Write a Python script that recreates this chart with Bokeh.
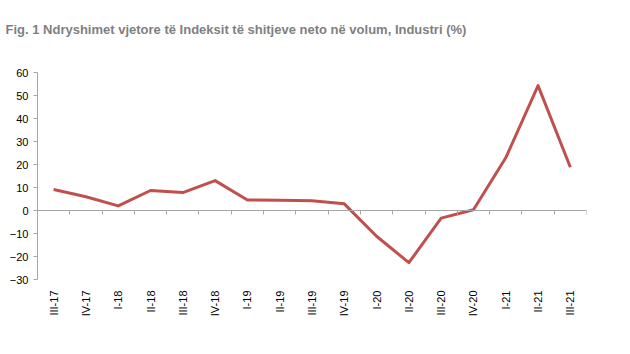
import math
from bokeh.plotting import figure
from bokeh.models import Range1d, LinearAxis, FixedTicker, Title
from bokeh.embed import file_html
from bokeh.resources import INLINE

categories = ["III-17", "IV-17", "I-18", "II-18", "III-18", "IV-18", "I-19", "II-19", "III-19",
              "IV-19", "I-20", "II-20", "III-20", "IV-20", "I-21", "II-21", "III-21"]
values = [9.1, 6.0, 2.0, 8.7, 7.8, 13.0, 4.6, 4.5, 4.2, 2.9, -11.2, -22.7, -3.3, 0.3, 22.9, 54.3, 18.8]
y_ticks = [-30, -20, -10, 0, 10, 20, 30, 40, 50, 60]
title_text = "Fig. 1 Ndryshimet vjetore të Indeksit të shitjeve neto në volum, Industri (%)"

n = len(categories)
xs = list(range(n))

FONT = "Liberation Sans"
AXIS_GREY = "#a6a6a6"

p = figure(width=630, height=354, output_backend="svg", toolbar_location=None,
           x_range=Range1d(-0.5, n - 0.5), y_range=Range1d(min(y_ticks), max(y_ticks)),
           x_axis_location=None, y_axis_location=None,
           min_border_left=37, min_border_right=44, min_border_top=72, min_border_bottom=75)
p.outline_line_color = None
p.grid.visible = False
p.background_fill_color = "white"
p.border_fill_color = "white"

# spacer panel between frame and title
spacer = Title(text=" ", text_font=FONT, text_font_size="14px", standoff=13)
p.add_layout(spacer, "above")
t = Title(text=title_text, text_font=FONT, text_font_size="13px", text_font_style="bold",
          text_color="#7f7f7f", align="left", offset=-32, standoff=10)
p.add_layout(t, "above")

# y axis
yax = LinearAxis(ticker=FixedTicker(ticks=y_ticks))
yax.axis_line_color = AXIS_GREY
yax.major_tick_line_color = AXIS_GREY
yax.major_tick_out = 4
yax.major_tick_in = 0
yax.minor_tick_line_color = None
yax.major_label_text_font = FONT
yax.major_label_text_font_size = "11px"
yax.major_label_text_color = "#000000"
yax.major_label_standoff = 5
p.add_layout(yax, "left")

# category labels at the bottom
xlab = LinearAxis(ticker=FixedTicker(ticks=xs),
                  major_label_overrides={i: c for i, c in enumerate(categories)})
xlab.axis_line_color = None
xlab.major_tick_line_color = None
xlab.minor_tick_line_color = None
xlab.major_label_orientation = math.pi / 2
xlab.major_label_text_font = FONT
xlab.major_label_text_font_size = "11px"
xlab.major_label_text_color = "#000000"
xlab.major_label_standoff = 5
p.add_layout(xlab, "below")

# zero axis with ticks between categories
zax = LinearAxis(ticker=FixedTicker(ticks=[i - 0.5 for i in range(n + 1)]), fixed_location=0)
zax.axis_line_color = AXIS_GREY
zax.major_tick_line_color = AXIS_GREY
zax.major_tick_out = 4
zax.major_tick_in = 0
zax.minor_tick_line_color = None
zax.major_label_text_font_size = "0px"
zax.major_label_text_alpha = 0
p.add_layout(zax, "below")

p.line(xs, values, line_color="#c0504d", line_width=3, line_join="round")

open("out.html", "w").write(file_html(p, INLINE))
